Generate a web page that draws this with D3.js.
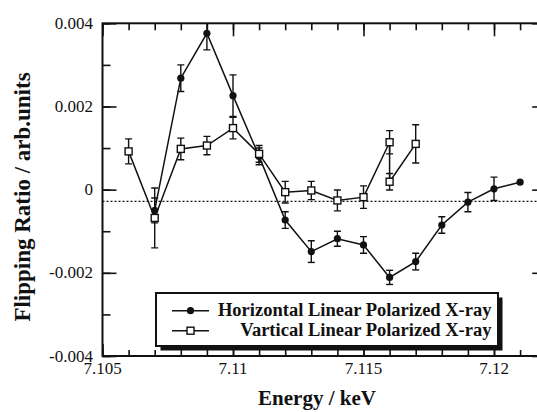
<!DOCTYPE html>
<html><head><meta charset="utf-8">
<script src="https://cdn.jsdelivr.net/npm/d3@7"></script>
<style>html,body{margin:0;padding:0;background:#fff;overflow:hidden}</style>
</head><body>
<svg id="c" width="537" height="412"></svg>
<script>
// ---- data ----
const hEnergy = [7.107,7.108,7.109,7.110,7.111,7.112,7.113,7.114,7.115,7.116,7.117,7.118,7.119,7.120,7.121];
const hValue  = [-0.0005,0.00268,0.00376,0.00226,0.0008,-0.00073,-0.00149,-0.00118,-0.00133,-0.00211,-0.00173,-0.00085,-0.0003,0.00002,0.00018];
const hError  = [0.0003,0.00032,0.0004,0.0005,0.0002,0.0002,0.00026,0.00018,0.0002,0.00017,0.0002,0.0002,0.00023,0.00028,0];

const vEnergy = [7.106,7.107,7.108,7.109,7.110,7.111,7.112,7.113,7.114,7.115,7.116,7.116,7.117];
const vValue  = [0.00092,-0.00068,0.00098,0.00106,0.00148,0.00086,-0.00006,-0.00002,-0.00026,-0.00018,0.00114,0.00019,0.0011];
const vError  = [0.0003,0.00072,0.00026,0.00022,0.00026,0.0002,0.00026,0.00022,0.00025,0.00027,0.00028,0.0002,0.00046];

const refLevel = -0.00028;
const xTickValues = [7.105,7.11,7.115,7.12];
const xTickLabels = ["7.105","7.11","7.115","7.12"];
const yTickValues = [-0.004,-0.002,0,0.002,0.004];
const yTickLabels = ["-0.004","-0.002","0","0.002","0.004"];
const seriesNames = ["Horizontal Linear Polarized X-ray","Vartical Linear Polarized X-ray"];

// ---- layout ----
const L = 102.5, T = 23.3, B = 356;
const x = d3.scaleLinear().domain([7.105,7.122]).range([L, L + 17*26.1]);
const y = d3.scaleLinear().domain([-0.004,0.004]).range([B, T]);
const R = x(7.122);
const ink = "#111";
const serif = "'Liberation Serif','Times New Roman',serif";

const svg = d3.select("#c");
svg.append("rect").attr("width",537).attr("height",412).attr("fill","#fff");
svg.append("defs").append("clipPath").attr("id","plot")
  .append("rect").attr("x",L).attr("y",T).attr("width",R-L).attr("height",B-T);

// dotted reference line
svg.append("line").attr("x1",L).attr("x2",R).attr("y1",y(refLevel)).attr("y2",y(refLevel))
  .attr("stroke",ink).attr("stroke-width",1.2).attr("stroke-dasharray","2,2");

// axes
const minorX = d3.range(7.105,7.1225,0.001);
const minorY = d3.range(-0.004,0.0045,0.001);
function styleAxis(g){ g.select(".domain").remove(); g.selectAll("line").attr("stroke",ink).attr("stroke-width",1.6); }
svg.append("g").attr("transform",`translate(0,${B})`)
  .call(d3.axisTop(x).tickValues(minorX).tickSize(6).tickFormat("")).call(styleAxis);
svg.append("g").attr("transform",`translate(0,${B})`)
  .call(d3.axisTop(x).tickValues(xTickValues).tickSize(12).tickFormat("")).call(styleAxis);
svg.append("g").attr("transform",`translate(0,${T})`)
  .call(d3.axisBottom(x).tickValues(minorX).tickSize(7).tickFormat("")).call(styleAxis);
svg.append("g").attr("transform",`translate(0,${T})`)
  .call(d3.axisBottom(x).tickValues(xTickValues).tickSize(13).tickFormat("")).call(styleAxis);
svg.append("g").attr("transform",`translate(${L},0)`)
  .call(d3.axisRight(y).tickValues(minorY).tickSize(8).tickFormat("")).call(styleAxis);
svg.append("g").attr("transform",`translate(${L},0)`)
  .call(d3.axisRight(y).tickValues(yTickValues).tickSize(14).tickFormat("")).call(styleAxis);
svg.append("g").attr("transform",`translate(${R},0)`)
  .call(d3.axisLeft(y).tickValues(minorY).tickSize(8).tickFormat("")).call(styleAxis);
svg.append("g").attr("transform",`translate(${R},0)`)
  .call(d3.axisLeft(y).tickValues(yTickValues).tickSize(14).tickFormat("")).call(styleAxis);

// frame
svg.append("rect").attr("x",L).attr("y",T).attr("width",R-L).attr("height",B-T)
  .attr("fill","none").attr("stroke",ink).attr("stroke-width",2);

// tick labels
svg.append("g").selectAll("text").data(xTickValues).join("text")
  .attr("x",d=>x(d)).attr("y",B+17.5).attr("text-anchor","middle")
  .attr("font-family",serif).attr("font-size",17).attr("fill",ink)
  .text((d,i)=>xTickLabels[i]);
svg.append("g").selectAll("text").data(yTickValues).join("text")
  .attr("x",93).attr("y",d=>y(d)+5.5).attr("text-anchor","end")
  .attr("font-family",serif).attr("font-size",17).attr("fill",ink)
  .text((d,i)=>yTickLabels[i]);

// axis titles
svg.append("text").attr("x",317).attr("y",405).attr("text-anchor","middle")
  .attr("font-family",serif).attr("font-weight","bold").attr("font-size",21).attr("fill",ink)
  .text("Energy / keV");
svg.append("text").attr("transform","translate(30,197) rotate(-90)").attr("text-anchor","middle")
  .attr("font-family",serif).attr("font-weight","bold").attr("font-size",23).attr("fill",ink)
  .text("Flipping Ratio / arb.units");

// series
const hData = hEnergy.map((e,i)=>({e, v:hValue[i], err:hError[i]}));
const vData = vEnergy.map((e,i)=>({e, v:vValue[i], err:vError[i]}));
const line = d3.line().x(d=>x(d.e)).y(d=>y(d.v));
const plot = svg.append("g").attr("clip-path","url(#plot)");

function errorBars(data){
  const g = plot.append("g").attr("stroke",ink).attr("stroke-width",1.4);
  data.filter(d=>d.err>0).forEach(d=>{
    const cx = x(d.e), y1 = y(d.v+d.err), y2 = y(d.v-d.err);
    g.append("line").attr("x1",cx).attr("x2",cx).attr("y1",y1).attr("y2",y2);
    g.append("line").attr("x1",cx-3.5).attr("x2",cx+3.5).attr("y1",y1).attr("y2",y1);
    g.append("line").attr("x1",cx-3.5).attr("x2",cx+3.5).attr("y1",y2).attr("y2",y2);
  });
}
errorBars(vData);
errorBars(hData);
plot.append("path").datum(vData).attr("d",line).attr("fill","none").attr("stroke",ink).attr("stroke-width",1.5);
plot.append("path").datum(hData).attr("d",line).attr("fill","none").attr("stroke",ink).attr("stroke-width",1.5);

plot.append("g").selectAll("circle").data(hData).join("circle")
  .attr("cx",d=>x(d.e)).attr("cy",d=>y(d.v)).attr("r",3.6).attr("fill",ink);
plot.append("g").selectAll("rect").data(vData).join("rect")
  .attr("x",d=>x(d.e)-3.5).attr("y",d=>y(d.v)-3.5).attr("width",7).attr("height",7)
  .attr("fill","#fff").attr("stroke",ink).attr("stroke-width",1.4);

// legend
const lg = svg.append("g");
lg.append("rect").attr("x",160.5).attr("y",297.5).attr("width",342).attr("height",53).attr("fill",ink);
lg.append("rect").attr("x",156).attr("y",293).attr("width",342).attr("height",53)
  .attr("fill","#fff").attr("stroke",ink).attr("stroke-width",2);
const rows = [{y:310.7, type:"h"},{y:330.7, type:"v"}];
rows.forEach((r,i)=>{
  lg.append("line").attr("x1",172).attr("x2",209).attr("y1",r.y).attr("y2",r.y)
    .attr("stroke",ink).attr("stroke-width",1.5);
  if(r.type==="h") lg.append("circle").attr("cx",190.5).attr("cy",r.y).attr("r",3.6).attr("fill",ink);
  else lg.append("rect").attr("x",187).attr("y",r.y-3.5).attr("width",7).attr("height",7)
        .attr("fill","#fff").attr("stroke",ink).attr("stroke-width",1.4);
  lg.append("text").attr("x",491.5).attr("y",r.y+5.5).attr("text-anchor","end")
    .attr("font-family",serif).attr("font-weight","bold").attr("font-size",18.5).attr("fill",ink)
    .text(seriesNames[i]);
});
</script>
</body></html>
